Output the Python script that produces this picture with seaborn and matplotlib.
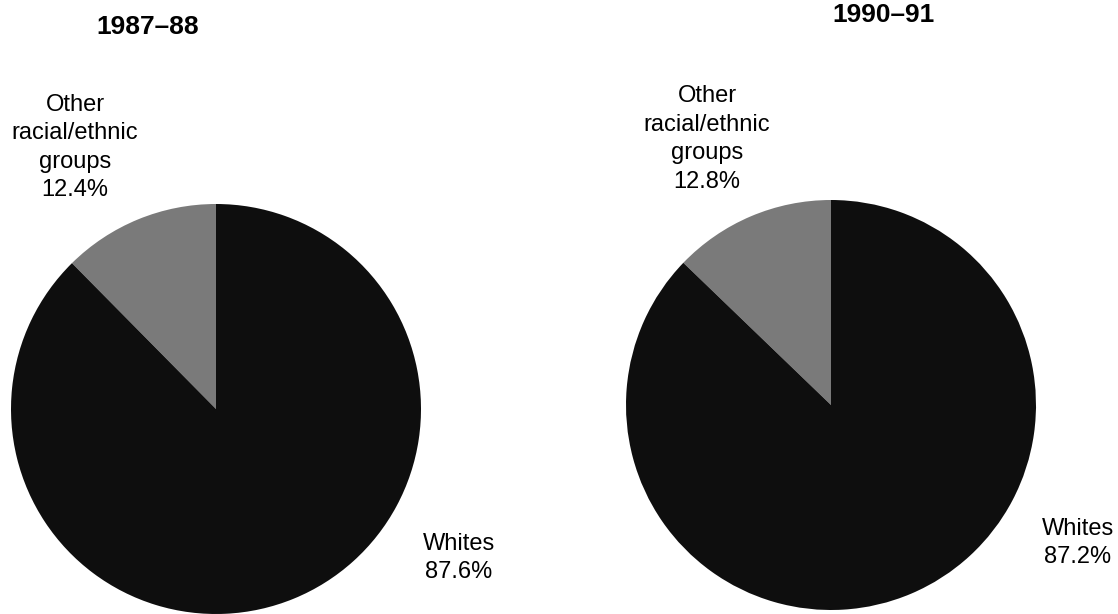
import numpy as np
import matplotlib
matplotlib.use("Agg")
import matplotlib.pyplot as plt
import seaborn as sns

# data
years = ["1987–88", "1990–91"]
groups = ["Other\nracial/ethnic\ngroups", "Whites"]
other_pct = [12.4, 12.8]
whites_pct = [87.6, 87.2]

sns.set_theme(style="white")
plt.rcParams['font.family'] = ['Liberation Sans', 'DejaVu Sans']

slice_colors = ["#7a7a7a", "#0e0e0e"]

fig = plt.figure(figsize=(11.18, 6.14), dpi=100)

# axes boxes in pixels (left, bottom, size) so each pie fills a square
boxes = [(11, 0, 410), (626, 4, 410)]
# label placement in data units (radius = 1)
other_xy = [(-0.688, 1.276), (-0.605, 1.298)]
whites_xy = [(1.185, -0.727), (1.205, -0.673)]
title_xy = [(-0.332, 1.863), (0.254, 1.902)]

for i, year in enumerate(years):
    left, bottom, size = boxes[i]
    ax = fig.add_axes([left / 1118, bottom / 614, size / 1118, size / 614])
    vals = [other_pct[i], whites_pct[i]]
    ax.pie(vals, colors=slice_colors, startangle=90, counterclock=True,
           radius=1, wedgeprops=dict(linewidth=0))
    ax.set_xlim(-1, 1)
    ax.set_ylim(-1, 1)
    ax.set_aspect('equal')
    ax.axis('off')

    ax.text(*other_xy[i], f"{groups[0]}\n{other_pct[i]:.1f}%", ha='center', va='center',
            fontsize=17, linespacing=1.38, color='black', clip_on=False)
    ax.text(*whites_xy[i], f"{groups[1]}\n{whites_pct[i]:.1f}%", ha='center', va='center',
            fontsize=17, linespacing=1.38, color='black', clip_on=False)
    ax.text(*title_xy[i], year, ha='center', va='center', fontsize=19,
            fontweight='bold', color='black', clip_on=False)

fig.savefig('out.png', dpi=100)
